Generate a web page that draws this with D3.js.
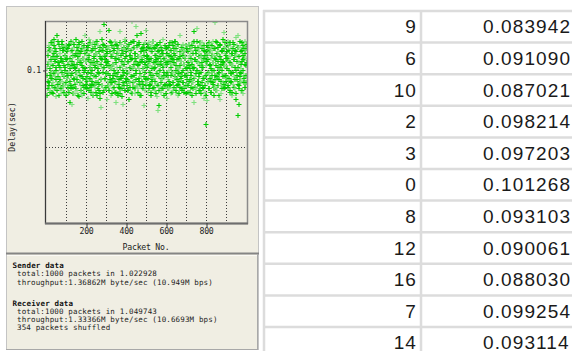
<!DOCTYPE html>
<html><head><meta charset="utf-8">
<script src="https://cdn.jsdelivr.net/npm/d3@7/dist/d3.min.js"></script>
<style>body{margin:0;background:#fff;overflow:hidden} svg{display:block}</style>
</head><body><svg id="c" width="572" height="351"></svg>
<script>
// Delay (ms) of even-numbered packets (0,2,4,...)
const delayEvenMs = [
101,84,112,93,106,90,116,97,87,118,104,95,113,86,99,109,92,120,88,107,96,114,83,102,110,123,91,105,98,117,89,103,111,94,85,108,100,119,93,106,87,113,97,115,90,102,109,84,116,98,
95,108,86,114,99,117,91,79,106,88,112,97,78,103,118,89,109,94,115,101,85,110,96,120,92,104,87,113,99,83,107,117,93,111,90,105,86,119,84,102,115,95,108,89,123,100,113,91,106,96,
110,88,82,115,94,107,120,90,103,86,112,98,117,93,118,105,85,109,96,114,89,102,119,92,106,84,111,99,116,91,104,87,125,82,76,108,95,113,90,117,101,86,110,130,94,107,88,115,98,103,
81,112,93,106,87,126,115,97,90,109,84,118,101,92,111,95,88,114,104,86,119,98,79,108,91,116,102,85,110,94,113,89,125,85,106,96,117,88,103,111,78,92,114,99,87,108,120,95,101,90,
116,94,105,87,113,81,99,110,92,118,86,107,132,96,114,89,102,119,93,108,85,111,128.6,98,115,123,90,104,88,117,101,93,109,84,112,124,96,106,89,115,100,91,77,113,87,105,118,94,126,102,
92,109,86,115,99,107,118,90,103,84,112,97,116,93,105,88,119,101,95,110,87,114,98,106,91,117,83,108,74,77,100,113,89,104,96,115,86,111,94,102,120,88,107,97,114,90,103,85,109,99,
82,111,94,106,88,116,100,91,113,97,85,109,104,118,92,107,87,114,99,110,95,119,86,103,112,90,117,98,84,108,101,93,123,89,115,96,106,87,111,100,117,92,104,88,113,97,109,85,116,102,
91,114,99,86,108,103,117,94,110,89,113,97,106,84,118,101,92,125,79,107,96,115,88,111,100,119,127,93,105,87,112,98,116,90,104,85,109,102,118,95,107,89,82,113,97,110,86,65,103,116,
80.5,106,92,115,98,88,111,103,117,93,108,86,113,100,119,91,105,84,110,97,131,114,89,107,95,118,87,102,112,94,109,99,81,116,90,104,85,113,98,120,92,106,124.7,88,111,97,115,93,103,108,
95,112,119,89,106,100,117,86,109,93,114,98,84,111,103,118,91,107,96,113,88,102,121.5,81,110,94,116,71,123,78,105,90,115,99,87,112,101,118,93,107,85,110,97,114,89,104,119,92,108,117
];
// Delay (ms) of odd-numbered packets (1,3,5,...)
const delayOddMs = [
97,110,88,104,115,92,101,86,113,99,107,90,118,95,103,85,111,98,116,89,106,94,112,100,87,109,96,119,91,105,84,114,102,93,108,88,117,99,106,90,113,96,103,86,110,100,115,92,107,95,
112,89,104,97,116,86,108,101,93,119,90,106,98,113,85,110,95,104,117,91,102,88,111,99,115,94,107,84,109,100,118,92,105,97,112,87,114,96,103,90,108,99,116,85,101,111,94,106,89,113,
93,107,99,116,87,110,102,95,118,89,105,113,91,100,84,114,97,108,90,117,103,86,111,96,106,119,92,101,88,112,98,115,85,109,94,104,120,90,107,99,113,87,102,116,95,109,89,105,98,111,
106,90,115,98,103,87,112,94,119,101,92,109,85,116,97,104,89,113,100,108,93,117,86,105,96,111,84,114,99,107,91,118,102,88,110,95,106,83,113,100,97,115,90,104,119,87,109,93,112,98,
99,114,87,106,93,117,102,89,110,96,113,85,108,101,119,92,104,97,115,88,111,94,106,100,90,116,86,109,103,95,118,91,105,98,112,84,107,114,93,101,88,110,96,117,99,104,90,113,95,108,
110,95,103,117,88,106,99,114,91,108,86,112,101,94,119,97,105,89,115,102,93,110,85,107,98,116,90,104,112,96,87,109,100,118,92,106,95,113,88,103,111,84,108,99,116,91,105,97,114,90,
104,88,115,97,110,93,106,118,90,102,113,86,108,99,116,92,105,89,111,96,119,100,87,114,94,107,101,91,117,98,85,109,103,112,95,106,88,115,99,92,110,104,86,113,97,108,90,116,101,94,
97,112,90,105,117,93,101,86,114,99,108,92,116,104,88,111,95,119,102,89,107,98,113,85,106,100,93,115,91,109,96,118,103,87,110,99,105,92,114,88,102,116,95,108,90,112,97,106,84,110,
112,93,107,99,118,88,104,95,113,101,86,110,97,116,92,105,89,114,100,108,94,119,87,103,111,96,106,90,115,98,84,109,102,117,93,107,100,88,112,96,105,114,91,103,118,89,108,97,110,95,
101,116,90,108,95,113,87,105,118,98,92,111,103,86,114,99,107,89,117,94,110,100,85,112,97,106,91,115,102,88,109,96,119,93,104,98,113,87,106,100,116,92,108,95,111,89,103,114,97,105
];
const xTickValues = [200, 400, 600, 800];
const xGridValues = [100, 200, 300, 400, 500, 600, 700, 800, 900];
const yTickValues = [0.1];
const yGridValues = [0.05, 0.1];
const xTitle = "Packet No.";
const yTitle = "Delay(sec)";
const infoBlocks = [
  {head: "Sender data", lines: ["total:1000 packets in 1.022928", "throughput:1.36862M byte/sec (10.949M bps)"]},
  {head: "Receiver data", lines: ["total:1000 packets in 1.049743", "throughput:1.33366M byte/sec (10.6693M bps)", "354 packets shuffled"]}
];
const tableIds = [9, 6, 10, 2, 3, 0, 8, 12, 16, 7, 14];
const tableDelays = ["0.083942", "0.091090", "0.087021", "0.098214", "0.097203", "0.101268", "0.093103", "0.090061", "0.088030", "0.099254", "0.093114"];

const points = [];
delayEvenMs.forEach((d, i) => points.push({pkt: i * 2, delay: d / 1000}));
delayOddMs.forEach((d, i) => points.push({pkt: i * 2 + 1, delay: d / 1000}));
points.sort((a, b) => a.pkt - b.pkt);

const svg = d3.select("#c");
const mono = "'DejaVu Sans Mono', monospace";
const fs = "8.2px", ls = "-0.25px";

// ---------- left panel ----------
svg.append("rect").attr("x", 6.5).attr("y", 6.5).attr("width", 252).attr("height", 343)
  .attr("fill", "#f0eee3").attr("stroke", "#c4c4c4");

const x = d3.scaleLinear().domain([-5, 1009]).range([45, 247.8]);
const y = d3.scaleLinear().domain([0, 0.1318]).range([224, 21]);

svg.append("clipPath").attr("id", "pc").append("rect")
  .attr("x", 45).attr("y", 21).attr("width", 203).attr("height", 203);

const g = svg.append("g");
g.selectAll(".vg").data(xGridValues).join("line")
  .attr("x1", d => Math.round(x(d)) + 0.5).attr("x2", d => Math.round(x(d)) + 0.5)
  .attr("y1", 22).attr("y2", 224)
  .attr("stroke", "#3c3c3c").attr("stroke-dasharray", "1,2");
g.selectAll(".hg").data(yGridValues).join("line")
  .attr("y1", d => Math.round(y(d)) + 0.5).attr("y2", d => Math.round(y(d)) + 0.5)
  .attr("x1", 46).attr("x2", 247)
  .attr("stroke", "#3c3c3c").attr("stroke-dasharray", "1,2");

const pg = svg.append("g").attr("clip-path", "url(#pc)");
pg.selectAll("path").data(points).join("path")
  .attr("transform", d => `translate(${Math.round(x(d.pkt)) + 0.5},${Math.round(y(d.delay)) + 0.5})`)
  .attr("d", "M-2,0H3M0.5,-2.5V2.5")
  .attr("stroke", (d, i) => (i % 4 === 0 ? "#7ee07e" : "#00cc00")).attr("stroke-width", 1.1)
  .attr("fill", "none");

// frame
svg.append("rect").attr("x", 45.5).attr("y", 21.5).attr("width", 202).attr("height", 202)
  .attr("fill", "none").attr("stroke", "#8a8a8a").attr("stroke-width", 1.5);
svg.append("line").attr("x1", 45.5).attr("x2", 45.5).attr("y1", 21).attr("y2", 224)
  .attr("stroke", "#3a3a3a");
svg.append("line").attr("x1", 45).attr("x2", 248).attr("y1", 223.5).attr("y2", 223.5)
  .attr("stroke", "#6e6e6e").attr("stroke-width", 2);

// axes
const ax = svg.append("g").attr("transform", "translate(0,223)")
  .call(d3.axisBottom(x).tickValues(xTickValues).tickSize(4).tickPadding(1));
ax.select(".domain").remove();
ax.selectAll("line").attr("stroke", "#3a3a3a").attr("transform", "translate(0.5,0)");
ax.selectAll("text").attr("font-family", mono).attr("font-size", fs).attr("letter-spacing", ls).attr("fill", "#222");

const ay = svg.append("g").attr("transform", "translate(46,0)")
  .call(d3.axisLeft(y).tickValues(yTickValues).tickSize(3).tickPadding(2).tickFormat(d3.format(".1f")));
ay.select(".domain").remove();
ay.selectAll("line").attr("stroke", "#3a3a3a").attr("transform", "translate(0,0.5)");
ay.selectAll("text").attr("font-family", mono).attr("font-size", fs).attr("letter-spacing", ls).attr("fill", "#222");

svg.append("text").attr("x", 146).attr("y", 249.5).attr("text-anchor", "middle")
  .attr("font-family", mono).attr("font-size", fs).attr("letter-spacing", ls).attr("fill", "#222").text(xTitle);
svg.append("text").attr("transform", "translate(15,127) rotate(-90)").attr("text-anchor", "middle")
  .attr("font-family", mono).attr("font-size", fs).attr("fill", "#222").text(yTitle);

// info box
svg.append("line").attr("x1", 6).attr("x2", 259).attr("y1", 253.5).attr("y2", 253.5)
  .attr("stroke", "#858585").attr("stroke-width", 2);
svg.append("line").attr("x1", 7).attr("x2", 258).attr("y1", 255.5).attr("y2", 255.5)
  .attr("stroke", "#fbfaf5");
svg.append("line").attr("x1", 257.5).attr("x2", 257.5).attr("y1", 254).attr("y2", 349)
  .attr("stroke", "#a8a8a8");
svg.append("line").attr("x1", 6).attr("x2", 258).attr("y1", 349.5).attr("y2", 349.5)
  .attr("stroke", "#a8a8a8");

const ifs = "7.5px", ils = "0.15px";
const baseY = [268, 305.5];
infoBlocks.forEach((b, bi) => {
  svg.append("text").attr("x", 12.5).attr("y", baseY[bi])
    .attr("font-family", mono).attr("font-size", ifs).attr("letter-spacing", ils).attr("font-weight", "bold")
    .attr("fill", "#111").text(b.head);
  b.lines.forEach((l, li) => {
    svg.append("text").attr("x", 17).attr("y", baseY[bi] + 8.3 * (li + 1))
      .attr("font-family", mono).attr("font-size", ifs).attr("letter-spacing", ils).attr("fill", "#222").text(l);
  });
});

// ---------- table ----------
const rowH = 31.6;
const ry = d3.scaleBand().domain(d3.range(tableIds.length)).range([11, 11 + rowH * tableIds.length]);
const rows = tableIds.map((id, i) => ({id, delay: tableDelays[i], i}));
const tg = svg.append("g");
tg.selectAll(".hl").data(d3.range(tableIds.length + 1)).join("line")
  .attr("x1", 263).attr("x2", 572)
  .attr("y1", d => 11 + d * rowH).attr("y2", d => 11 + d * rowH)
  .attr("stroke", "#dcdcdc").attr("stroke-width", 2.5);
tg.append("line").attr("x1", 264).attr("x2", 264).attr("y1", 10).attr("y2", 351)
  .attr("stroke", "#dcdcdc").attr("stroke-width", 2.5);
tg.append("line").attr("x1", 421).attr("x2", 421).attr("y1", 10).attr("y2", 351)
  .attr("stroke", "#dcdcdc").attr("stroke-width", 2.5);
const tf = "'Liberation Sans', Arial, sans-serif";
tg.selectAll(".id").data(rows).join("text")
  .attr("x", 417).attr("y", d => ry(d.i) + ry.bandwidth() / 2 + 6.6)
  .attr("text-anchor", "end").attr("font-family", tf)
  .attr("font-size", "19px").attr("letter-spacing", "1.1px").attr("fill", "#1a1a1a")
  .text(d => d.id);
tg.selectAll(".dl").data(rows).join("text")
  .attr("x", 483).attr("y", d => ry(d.i) + ry.bandwidth() / 2 + 6.6)
  .attr("font-family", tf)
  .attr("font-size", "19px").attr("letter-spacing", "1.1px").attr("fill", "#1a1a1a")
  .text(d => d.delay);
</script></body></html>
